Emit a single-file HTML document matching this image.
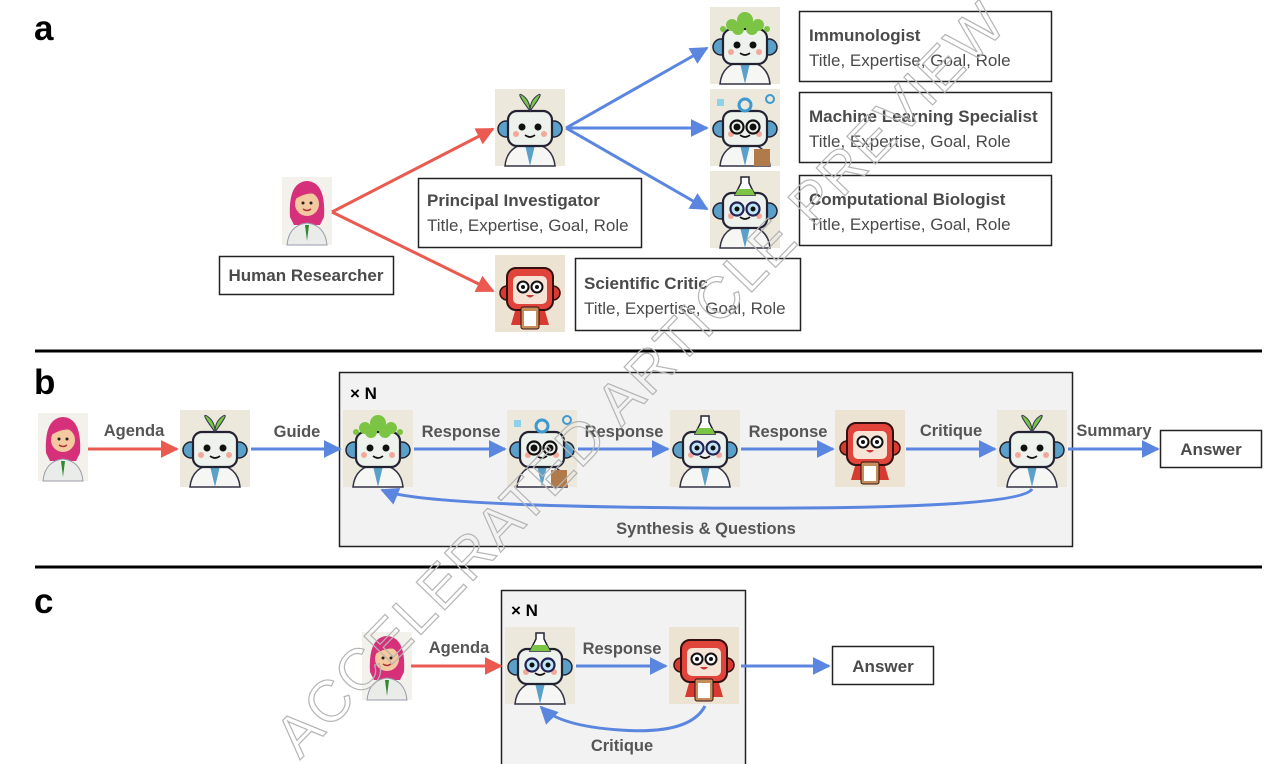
<!DOCTYPE html>
<html><head><meta charset="utf-8"><style>
html,body{margin:0;padding:0;background:#fff;width:1280px;height:764px;overflow:hidden}
svg{display:block}
text{font-family:"Liberation Sans",sans-serif}
.t{font-weight:bold;fill:#4a4a4a;font-size:17px}
.s{fill:#4a4a4a;font-size:17px}
.l{font-weight:bold;fill:#555;font-size:16.5px}
.p{font-weight:bold;fill:#000;font-size:35px}
</style></head><body>
<svg width="1280" height="764" viewBox="0 0 1280 764" xmlns="http://www.w3.org/2000/svg">
<defs>
<marker id="ar" viewBox="0 0 10 10" refX="9" refY="5" markerWidth="6" markerHeight="6" orient="auto"><path d="M0,0L10,5L0,10z" fill="#ea5a50"/></marker>
<marker id="ab" viewBox="0 0 10 10" refX="9" refY="5" markerWidth="6" markerHeight="6" orient="auto"><path d="M0,0L10,5L0,10z" fill="#5b86e0"/></marker>
<g id="robot">
<rect width="70" height="77" fill="#ece8db"/>
<path d="M10,77 Q12,56 35,54 Q58,56 60,77z" fill="#f6f7f5" stroke="#334" stroke-width="1.5"/>
<path d="M30,56 L35,77 L40,56z" fill="#5aa0c8"/>
<circle cx="11" cy="40" r="8" fill="#5aa0c8" stroke="#223" stroke-width="1.5"/>
<circle cx="59" cy="40" r="8" fill="#5aa0c8" stroke="#223" stroke-width="1.5"/>
<rect x="13" y="22" width="44" height="35" rx="9" fill="#eef2ec" stroke="#223" stroke-width="2.2"/>
<circle cx="27" cy="38" r="3.5" fill="#111"/><circle cx="43" cy="38" r="3.5" fill="#111"/>
<path d="M30,46 Q35,50 40,46" stroke="#111" stroke-width="1.6" fill="none"/>
<circle cx="21" cy="45" r="3" fill="#f2a99a"/><circle cx="49" cy="45" r="3" fill="#f2a99a"/>
</g>
<g id="leaf"><path d="M35,22 Q20,2 27,6 Q35,11 35,22z M35,22 Q50,2 43,6 Q35,11 35,22z" fill="#7cc444" stroke="#335" stroke-width="1"/></g>
<g id="bush"><g fill="#7cc444"><circle cx="22" cy="18" r="6"/><circle cx="35" cy="13" r="8"/><circle cx="48" cy="18" r="6"/><circle cx="28" cy="22" r="6"/><circle cx="42" cy="22" r="6"/><circle cx="13" cy="22" r="3"/><circle cx="57" cy="22" r="3"/></g></g>
<g id="gear"><circle cx="35" cy="16" r="6" fill="none" stroke="#3c9ad0" stroke-width="3"/><rect x="7" y="10" width="7" height="7" fill="#8fd0ea"/><circle cx="60" cy="10" r="4" fill="none" stroke="#3c9ad0" stroke-width="2"/><rect x="44" y="60" width="16" height="17" fill="#b07a4a"/><circle cx="27" cy="38" r="6.5" fill="none" stroke="#111" stroke-width="2.2"/><circle cx="43" cy="38" r="6.5" fill="none" stroke="#111" stroke-width="2.2"/></g>
<g id="flask"><path d="M31,6 L39,6 L39,12 L45,24 L25,24 L31,12z" fill="#fff" stroke="#223" stroke-width="1.5"/><path d="M28,18 L42,18 L45,24 L25,24z" fill="#7cc444"/><circle cx="27" cy="38" r="6.5" fill="#bfe6f5" stroke="#225" stroke-width="2.2"/><circle cx="43" cy="38" r="6.5" fill="#bfe6f5" stroke="#225" stroke-width="2.2"/><circle cx="27" cy="38" r="2.5" fill="#111"/><circle cx="43" cy="38" r="2.5" fill="#111"/></g>
<g id="critic">
<rect width="70" height="77" fill="#ece3d2"/>
<circle cx="12" cy="38" r="7" fill="#d63a30" stroke="#311" stroke-width="1.5"/>
<circle cx="58" cy="38" r="7" fill="#d63a30" stroke="#311" stroke-width="1.5"/>
<path d="M20,56 L16,70 L54,70 L50,56z" fill="#d63a30"/>
<rect x="12" y="13" width="46" height="42" rx="9" fill="#e0443a" stroke="#311" stroke-width="2"/>
<rect x="18" y="21" width="34" height="28" rx="5" fill="#f6e3d6"/>
<circle cx="28" cy="32" r="5.5" fill="#fff" stroke="#111" stroke-width="2"/><circle cx="42" cy="32" r="5.5" fill="#fff" stroke="#111" stroke-width="2"/>
<circle cx="28" cy="32" r="2" fill="#111"/><circle cx="42" cy="32" r="2" fill="#111"/>
<path d="M31,40 Q35,45 39,40z" fill="#c33"/>
<rect x="26" y="52" width="18" height="22" rx="2" fill="#c58d5a" stroke="#311"/><rect x="29" y="56" width="12" height="15" fill="#fff"/>
</g>
<g id="human">
<rect width="50" height="68" fill="#f3f1ec"/>
<path d="M8,40 Q6,5 25,4 Q44,5 42,40 L38,48 L12,48z" fill="#d6307a"/>
<circle cx="25" cy="27" r="12" fill="#f5c9a0"/>
<path d="M13,22 Q20,8 37,20 Q30,12 13,22z" fill="#d6307a"/>
<circle cx="21" cy="26" r="1.5" fill="#222"/><circle cx="29" cy="26" r="1.5" fill="#222"/>
<path d="M21,32 Q25,35 29,32" stroke="#a33" stroke-width="1.5" fill="none"/>
<path d="M5,68 Q7,48 25,46 Q43,48 45,68z" fill="#e9ece9" stroke="#99a" stroke-width="1"/>
<path d="M23,48 L25,64 L27,48z" fill="#2f8a2f"/>
</g>
</defs>

<text x="34" y="40" class="p">a</text>
<use href="#human" x="282" y="177"/>
<rect x="219.5" y="256.5" width="174" height="38" fill="#fff" stroke="#222" stroke-width="1.5"/>
<text x="306" y="281" class="t" text-anchor="middle">Human Researcher</text>
<use href="#robot" x="495" y="89"/><use href="#leaf" x="495" y="89"/>
<rect x="418.5" y="178.5" width="223" height="69" fill="#fff" stroke="#222" stroke-width="1.5"/>
<text x="427" y="206" class="t">Principal Investigator</text>
<text x="427" y="231" class="s">Title, Expertise, Goal, Role</text>
<use href="#robot" x="710" y="7"/><use href="#bush" x="710" y="7"/>
<rect x="799.5" y="11.5" width="252" height="70" fill="#fff" stroke="#222" stroke-width="1.5"/>
<text x="809" y="41" class="t">Immunologist</text>
<text x="809" y="66" class="s">Title, Expertise, Goal, Role</text>
<use href="#robot" x="710" y="89"/><use href="#gear" x="710" y="89"/>
<rect x="799.5" y="92.5" width="252" height="70" fill="#fff" stroke="#222" stroke-width="1.5"/>
<text x="809" y="122" class="t">Machine Learning Specialist</text>
<text x="809" y="147" class="s">Title, Expertise, Goal, Role</text>
<use href="#robot" x="710" y="171"/><use href="#flask" x="710" y="171"/>
<rect x="799.5" y="175.5" width="252" height="70" fill="#fff" stroke="#222" stroke-width="1.5"/>
<text x="809" y="205" class="t">Computational Biologist</text>
<text x="809" y="230" class="s">Title, Expertise, Goal, Role</text>
<use href="#critic" x="495" y="255"/>
<rect x="575.5" y="258.5" width="225" height="72" fill="#fff" stroke="#222" stroke-width="1.5"/>
<text x="584" y="289" class="t">Scientific Critic</text>
<text x="584" y="314" class="s">Title, Expertise, Goal, Role</text>
<g stroke="#ea5a50" stroke-width="3" fill="none">
<line x1="332" y1="212" x2="493" y2="129" marker-end="url(#ar)"/>
<line x1="332" y1="212" x2="493" y2="291" marker-end="url(#ar)"/>
</g>
<g stroke="#5b86e0" stroke-width="3" fill="none">
<line x1="566" y1="128" x2="707" y2="48" marker-end="url(#ab)"/>
<line x1="566" y1="128" x2="707" y2="128" marker-end="url(#ab)"/>
<line x1="566" y1="128" x2="707" y2="209" marker-end="url(#ab)"/>
</g>
<rect x="35" y="349.5" width="1227" height="3" fill="#000"/>

<text x="34" y="394" class="p">b</text>
<rect x="339.5" y="372.5" width="733" height="174" fill="#f2f2f2" stroke="#222" stroke-width="1.5"/>
<text x="350" y="399" style="font-weight:bold;font-size:17px;fill:#000">× N</text>
<use href="#human" x="38" y="413"/>
<use href="#robot" x="180" y="410"/><use href="#leaf" x="180" y="410"/>
<use href="#robot" x="343" y="410"/><use href="#bush" x="343" y="410"/>
<use href="#robot" x="507" y="410"/><use href="#gear" x="507" y="410"/>
<use href="#robot" x="670" y="410"/><use href="#flask" x="670" y="410"/>
<use href="#critic" x="835" y="410"/>
<use href="#robot" x="997" y="410"/><use href="#leaf" x="997" y="410"/>
<line x1="88" y1="449" x2="177" y2="449" stroke="#ea5a50" stroke-width="3" marker-end="url(#ar)"/>
<g stroke="#5b86e0" stroke-width="3" fill="none">
<line x1="251" y1="449" x2="340" y2="449" marker-end="url(#ab)"/>
<line x1="414" y1="449" x2="505" y2="449" marker-end="url(#ab)"/>
<line x1="578" y1="449" x2="668" y2="449" marker-end="url(#ab)"/>
<line x1="741" y1="449" x2="833" y2="449" marker-end="url(#ab)"/>
<line x1="906" y1="449" x2="995" y2="449" marker-end="url(#ab)"/>
<line x1="1068" y1="449" x2="1158" y2="449" marker-end="url(#ab)"/>
<path d="M1032,489 Q1020,510 700,508 Q420,506 382,490" marker-end="url(#ab)"/>
</g>
<text x="134" y="436" class="l" text-anchor="middle">Agenda</text>
<text x="297" y="437" class="l" text-anchor="middle">Guide</text>
<text x="461" y="437" class="l" text-anchor="middle">Response</text>
<text x="624" y="437" class="l" text-anchor="middle">Response</text>
<text x="788" y="437" class="l" text-anchor="middle">Response</text>
<text x="951" y="436" class="l" text-anchor="middle">Critique</text>
<text x="1114" y="436" class="l" text-anchor="middle">Summary</text>
<rect x="1160.5" y="430.5" width="101" height="37" fill="#fff" stroke="#222" stroke-width="1.5"/>
<text x="1211" y="455" class="t" text-anchor="middle">Answer</text>
<text x="706" y="534" class="l" text-anchor="middle">Synthesis &amp; Questions</text>
<rect x="35" y="565.5" width="1227" height="3" fill="#000"/>

<text x="34" y="613" class="p">c</text>
<rect x="501.5" y="590.5" width="244" height="180" fill="#f2f2f2" stroke="#222" stroke-width="1.5"/>
<text x="511" y="616" style="font-weight:bold;font-size:17px;fill:#000">× N</text>
<use href="#human" x="362" y="632"/>
<use href="#robot" x="505" y="627"/><use href="#flask" x="505" y="627"/>
<use href="#critic" x="669" y="627"/>
<line x1="411" y1="666" x2="501" y2="666" stroke="#ea5a50" stroke-width="3" marker-end="url(#ar)"/>
<g stroke="#5b86e0" stroke-width="3" fill="none">
<line x1="576" y1="666" x2="666" y2="666" marker-end="url(#ab)"/>
<line x1="741" y1="666" x2="829" y2="666" marker-end="url(#ab)"/>
<path d="M705,706 Q690,735 620,730 Q560,726 541,707" marker-end="url(#ab)"/>
</g>
<text x="459" y="653" class="l" text-anchor="middle">Agenda</text>
<text x="622" y="654" class="l" text-anchor="middle">Response</text>
<text x="622" y="751" class="l" text-anchor="middle">Critique</text>
<rect x="832.5" y="646.5" width="101" height="38" fill="#fff" stroke="#222" stroke-width="1.5"/>
<text x="883" y="672" class="t" text-anchor="middle">Answer</text>

<text x="0" y="0" transform="translate(300,760) rotate(-46)" style="font-size:58px;fill:none;stroke:#b5b5b5;stroke-width:1.2;letter-spacing:1px" textLength="1020">ACCELERATED ARTICLE PREVIEW</text>
</svg>
</body></html>
